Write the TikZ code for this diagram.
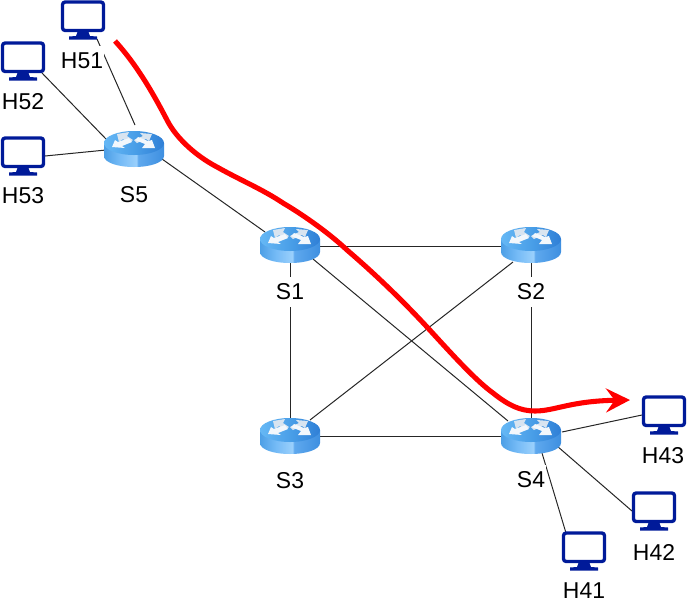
\documentclass[tikz,border=0pt]{standalone}
\usepackage{fontspec}
\setmainfont{Liberation Sans}
\usetikzlibrary{arrows.meta,calc}
\definecolor{hostblue}{HTML}{001A99}
\definecolor{rarrow}{HTML}{D8E4F0}
\definecolor{rarrowb}{HTML}{F2F7FC}
\definecolor{sa}{HTML}{4C9FE6}
\definecolor{sb}{HTML}{74BAF6}
\definecolor{sc}{HTML}{9AD0FC}
\definecolor{sd}{HTML}{5FA9EE}
\definecolor{se}{HTML}{3E8FE0}
\definecolor{ta}{HTML}{66B8F5}
\definecolor{tb}{HTML}{4A9FE8}
\definecolor{tc}{HTML}{2F7FD6}
\pgfdeclarehorizontalshading{rsideshade}{100bp}{
 color(0bp)=(sa); color(25bp)=(sa); color(38bp)=(sb); color(52bp)=(sc); color(53.5bp)=(sd); color(75bp)=(se); color(100bp)=(se)}
\pgfdeclarehorizontalshading{rtopshade}{100bp}{
 color(0bp)=(ta); color(25bp)=(ta); color(50bp)=(tb); color(75bp)=(tc); color(100bp)=(tc)}
\tikzset{
 x=0.75pt,y=-0.75pt,
 link/.style={draw=black!85,line width=0.75pt},
 routerbox/.style={circle,minimum size=22.5pt,inner sep=0pt,outer sep=0pt},
 hostbox/.style={rectangle,minimum width=33pt,minimum height=29.5pt,inner sep=0pt,outer sep=0pt},
 lab/.style={font=\fontsize{17.2pt}{19pt}\selectfont,text=black,fill=white,inner xsep=1pt,inner ysep=0pt,minimum height=22.5pt},
 router/.pic={
  \path[shading=rsideshade] (-30,-6) -- (-30,7) .. controls (-30,13.5) and (-16.5,18) .. (0,18) .. controls (16.5,18) and (30,13.5) .. (30,7) -- (30,-6) -- cycle;
  \path[shading=rtopshade] (0,-6) ellipse[x radius=30,y radius=12];
  % four arrows of the router icon
  \fill[rarrow] (-17,-15) -- (-5,-17) -- (-7,-13) -- (-1,-9) -- (-5,-6) -- (-11,-10) -- (-15,-7) -- cycle;
  \fill[rarrowb] (-22,-2) -- (-19,-9) -- (-16,-7) -- (-5,-11) -- (-2,-7) -- (-12,-3) -- (-9,-1) -- cycle;
  \fill[rarrow] (18,-15) -- (15,-8) -- (12,-10) -- (3,-6) -- (0,-9) -- (9,-13) -- (6,-16) -- cycle;
  \fill[rarrowb] (21,-1) -- (8,-1) -- (11,-5) -- (1,-9) -- (4,-12) -- (14,-8) -- (18,-9) -- cycle;
 },
 monitor/.pic={
  \draw[hostblue,line width=2.5pt,rounded corners=2pt,fill=white] (-20.5,-18) rectangle (20.5,10.5);
  \fill[hostblue] (-5.5,12) -- (5.5,12) -- (7,16) -- (14,16.5) -- (14,19.5) -- (-14,19.5) -- (-14,16.5) -- (-7,16) -- cycle;
 },
}
\begin{document}
\begin{tikzpicture}
\useasboundingbox (0,0) rectangle (687,608);
% routers (invisible anchors)
\node[routerbox] (S1) at (290,245) {};
\node[routerbox] (S2) at (531,245) {};
\node[routerbox] (S3) at (290,436) {};
\node[routerbox] (S4) at (531,436) {};
\node[routerbox] (S5) at (134,149) {};
% hosts
\node[hostbox] (H51) at (83,20) {};
\node[hostbox] (H52) at (23,61) {};
\node[hostbox] (H53) at (23,156) {};
\node[hostbox] (H43) at (664,415) {};
\node[hostbox] (H42) at (654,511) {};
\node[hostbox] (H41) at (584,551) {};
% connectors
\draw[link] ($(H51)+(14,19)$) -- ($(S5)+(1,-24)$);
\draw[link] ($(H52)+(19,12)$) -- ($(S5)+(-28,-10)$);
\draw[link] ($(H53)+(22,0)$) -- ($(S5)+(-28,1)$);
\draw[link] ($(S5)+(28,10)$) -- ($(S1)+(-25,-13)$);
\draw[link] ($(S1)+(30,1)$) -- ($(S2)+(-30,1)$);
\draw[link] ($(S1)+(0,18)$) -- ($(S3)+(0,-15)$);
\draw[link] ($(S1)+(23,14)$) -- ($(S4)+(-23,-15)$);
\draw[link] ($(S2)+(-18,17)$) -- ($(S3)+(20,-16)$);
\draw[link] ($(S2)+(0,18)$) -- ($(S4)+(0,-18)$);
\draw[link] ($(S3)+(30,0)$) -- ($(S4)+(-30,0)$);
\draw[link] ($(S4)+(31,-4)$) -- ($(H43)+(-22,0)$);
\draw[link] ($(S4)+(26,10)$) -- ($(H42)+(-22,0)$);
\draw[link] ($(S4)+(11,17)$) -- ($(H41)+(-18,-18)$);
% icons
\foreach \n/\px/\py in {S1/290/245,S2/531/245,S3/290/436,S4/531/436,S5/134/149}
  \pic at (\px,\py) {router};
\foreach \n/\px/\py in {H51/83/20,H52/23/61,H53/23/156,H43/664/415,H42/654/511,H41/584/551}
  \pic at (\px,\py) {monitor};
% labels
\node[lab] (L51) at (82,61) {H51};
\node[lab] (L52) at (23,102) {H52};
\node[lab] (L53) at (23,196) {H53};
\node[lab] (L5) at (134,195) {S5};
\node[lab] (L1) at (290,292) {S1};
\node[lab] (L2) at (531,292) {S2};
\node[lab] (L3) at (290,481) {S3};
\node[lab] (L4) at (531,480) {S4};
\node[lab] (L43) at (663,456) {H43};
\node[lab] (L42) at (654,552) {H42};
\node[lab] (L41) at (584,591) {H41};
% red route
\coordinate (rs) at (115,41);
\coordinate (re) at (630,400);
\draw[red,line width=3.8pt,-{Stealth[length=18pt,width=18pt,inset=6.5pt]}]
 (rs) .. controls (138,66) and (155,97) .. (167,120)
 .. controls (176,138) and (196,156) .. (217,167)
 .. controls (240,180) and (262,189) .. (283,203)
 .. controls (305,216) and (330,234) .. (347,250)
 .. controls (375,274) and (402,300) .. (427,327)
 .. controls (450,352) and (475,380) .. (493,393)
 .. controls (508,405) and (520,411) .. (535,411)
 .. controls (555,411) and (570,401) .. (re);
\end{tikzpicture}
\end{document}
